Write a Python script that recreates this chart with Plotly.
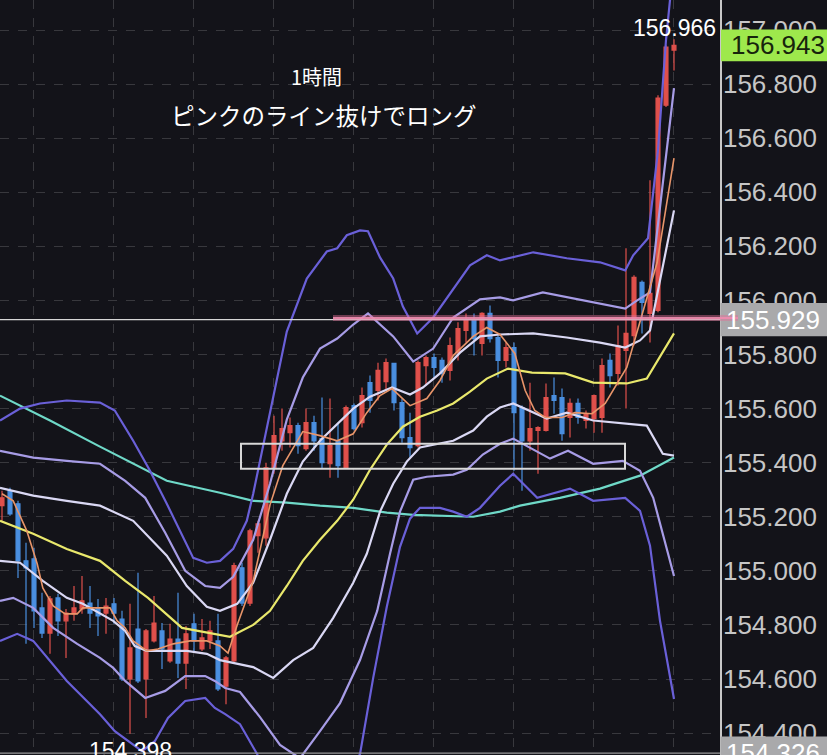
import plotly.graph_objects as go

# ---------------- candle data (1h) ----------------
open_ = [155.241, 155.296, 155.248, 155.037, 155.044, 154.863, 154.770, 154.900, 154.815, 154.841,
         154.859, 154.881, 154.863, 154.844, 154.878, 154.822, 154.600, 154.785, 154.600, 154.741,
         154.778, 154.667, 154.748, 154.659, 154.804, 154.711, 154.741, 154.741, 154.574, 154.667,
         155.011, 154.881, 155.130, 155.122, 155.381, 155.481, 155.511, 155.537, 155.452, 155.548,
         155.489, 155.396, 155.481, 155.381, 155.611, 155.548, 155.696, 155.667, 155.700, 155.767,
         155.622, 155.493, 155.463, 155.759, 155.789, 155.778, 155.741, 155.807, 155.889, 155.926,
         155.841, 155.952, 155.863, 155.778, 155.826, 155.604, 155.481, 155.519, 155.519, 155.648,
         155.641, 155.567, 155.619, 155.556, 155.563, 155.567, 155.778, 155.730, 155.815, 155.870,
         156.067, 155.952, 155.963, 156.722, 156.926]
high = [155.296, 155.307, 155.259, 155.104, 155.085, 154.919, 154.907, 154.915, 154.859, 154.944,
        154.981, 154.944, 154.896, 154.900, 154.900, 154.852, 154.878, 154.993, 154.785, 154.907,
        154.807, 154.804, 154.919, 154.796, 154.841, 154.822, 154.815, 154.841, 154.685, 155.030,
        155.030, 155.156, 155.185, 155.400, 155.574, 155.600, 155.567, 155.548, 155.600, 155.574,
        155.641, 155.637, 155.548, 155.611, 155.619, 155.678, 155.722, 155.770, 155.785, 155.770,
        155.637, 155.585, 155.778, 155.796, 155.804, 155.789, 155.863, 155.919, 155.952, 155.952,
        155.956, 155.981, 155.870, 155.844, 155.844, 155.611, 155.696, 155.535, 155.693, 155.715,
        155.674, 155.637, 155.637, 155.593, 155.652, 155.785, 155.804, 155.907, 156.193, 156.093,
        156.074, 156.444, 156.759, 156.944, 156.966]
low = [155.185, 155.204, 154.974, 154.730, 154.789, 154.752, 154.693, 154.759, 154.678, 154.815,
       154.841, 154.789, 154.759, 154.767, 154.804, 154.593, 154.398, 154.585, 154.456, 154.735,
       154.637, 154.660, 154.604, 154.563, 154.704, 154.704, 154.711, 154.556, 154.507, 154.659,
       154.870, 154.870, 155.067, 155.093, 155.359, 155.444, 155.456, 155.433, 155.444, 155.444,
       155.378, 155.344, 155.344, 155.378, 155.519, 155.530, 155.585, 155.630, 155.667, 155.593,
       155.474, 155.419, 155.456, 155.685, 155.715, 155.696, 155.704, 155.778, 155.844, 155.796,
       155.796, 155.844, 155.715, 155.752, 155.370, 155.296, 155.444, 155.359, 155.515, 155.581,
       155.481, 155.493, 155.544, 155.526, 155.511, 155.511, 155.678, 155.685, 155.600, 155.833,
       155.878, 155.844, 155.956, 156.715, 156.850]
close = [155.270, 155.211, 155.037, 155.011, 154.852, 154.770, 154.896, 154.815, 154.844, 154.863,
         154.889, 154.844, 154.833, 154.870, 154.844, 154.600, 154.715, 154.593, 154.778, 154.807,
         154.711, 154.748, 154.659, 154.767, 154.741, 154.752, 154.778, 154.563, 154.678, 155.019,
         154.881, 155.148, 155.174, 155.381, 155.500, 155.526, 155.537, 155.463, 155.548, 155.481,
         155.400, 155.463, 155.389, 155.604, 155.526, 155.648, 155.630, 155.741, 155.770, 155.622,
         155.493, 155.456, 155.770, 155.789, 155.752, 155.730, 155.833, 155.896, 155.926, 155.859,
         155.952, 155.859, 155.778, 155.826, 155.585, 155.481, 155.526, 155.530, 155.641, 155.630,
         155.507, 155.619, 155.567, 155.581, 155.648, 155.759, 155.722, 155.833, 155.878, 156.085,
         155.993, 156.026, 156.748, 156.937, 156.943]
bars = list(range(len(open_)))

# ---------------- indicator lines (bar index, price) ----------------
cyan_x = [-0.25, 6, 12, 20.6, 27.25, 31.4, 35.6, 39.75, 43.9, 48.1, 51.4, 56.4, 58.9, 62.25, 64.75,
          69.75, 74.75, 79.75, 84]
cyan_y = [155.648, 155.556, 155.463, 155.333, 155.289, 155.259, 155.252, 155.241, 155.233, 155.215,
          155.207, 155.204, 155.200, 155.219, 155.241, 155.270, 155.304, 155.352, 155.419]

mid_x = [-0.25, 3.9, 8.1, 12.25, 15.4, 18.25, 22.5, 26.6, 28.5, 31.4, 33.5, 35.6, 37.6, 39.75, 41.9,
         43.9, 46, 48.1, 50.1, 52.25, 54.4, 56.4, 58.5, 60.6, 63.25, 66.25, 70.4, 73.9, 78.1, 80.6, 84]
mid_y = [155.185, 155.137, 155.081, 155.037, 154.963, 154.900, 154.789, 154.767, 154.756, 154.800,
         154.852, 154.944, 155.037, 155.115, 155.185, 155.263, 155.374, 155.467, 155.533, 155.570,
         155.593, 155.619, 155.663, 155.711, 155.748, 155.733, 155.730, 155.696, 155.693, 155.711,
         155.878]

fast_x = [0, 1.4, 3.1, 4.4, 5.1, 6.4, 7.9, 9.4, 10.1, 12.25, 13.5, 14.4, 15.4, 16.4, 18.1, 19.5,
          21.4, 23.5, 25.6, 27.25, 28.25, 29.4, 31.4, 33.5, 35.1, 37.6, 39.75, 41.9, 43.9, 45.6,
          47.25, 48.75, 50, 51, 53.1, 54.75, 56.4, 58.9, 60.6, 62.25, 64.1, 65.4, 66.6, 67.9, 70,
          71.6, 73.75, 75.4, 78.1, 80.1, 81.9, 84]
fast_y = [155.285, 155.259, 155.148, 155.026, 154.937, 154.870, 154.841, 154.841, 154.863, 154.863,
          154.863, 154.815, 154.789, 154.741, 154.704, 154.711, 154.730, 154.741, 154.741, 154.722,
          154.696, 154.800, 154.963, 155.244, 155.389, 155.515, 155.500, 155.481, 155.507, 155.585,
          155.648, 155.674, 155.637, 155.611, 155.637, 155.704, 155.796, 155.867, 155.900, 155.874,
          155.804, 155.667, 155.593, 155.567, 155.567, 155.585, 155.581, 155.619, 155.752, 155.952,
          156.141, 156.526]

up3_x = [-0.25, 2.25, 4.75, 8.1, 12.25, 14.1, 16.4, 18.5, 20.6, 23.9, 25.6, 27.25, 28.9, 30.6, 31.4,
         33.5, 35.6, 38.1, 40.6, 41.9, 43.1, 44.75, 45.75, 47.25, 48.9, 50.1, 51.9, 53.9, 56.4, 58.5,
         60.6, 62.25, 66.4, 70.6, 74.75, 77.9, 78.9, 80.75, 82, 83, 84]
up3_y = [155.556, 155.600, 155.619, 155.630, 155.622, 155.593, 155.481, 155.370, 155.248, 155.048,
         155.030, 155.037, 155.081, 155.185, 155.285, 155.585, 155.885, 156.081, 156.181, 156.193,
         156.241, 156.259, 156.256, 156.159, 156.081, 155.978, 155.878, 155.937, 156.044, 156.130,
         156.167, 156.148, 156.178, 156.156, 156.141, 156.111, 156.167, 156.230, 156.556, 156.963,
         157.259]

up2_x = [-0.25, 3.9, 8.1, 12.25, 15.4, 17.9, 20.4, 22.9, 25.4, 27.25, 28.9, 31.4, 33.5, 35.6, 37.6,
         39.75, 41.9, 43.9, 45.75, 48.9, 51.4, 53.9, 56.4, 59.75, 62.25, 63.9, 67.6, 72.6, 77.9, 79.4,
         81, 84]
up2_y = [155.444, 155.419, 155.407, 155.396, 155.333, 155.270, 155.141, 155.000, 154.944, 154.937,
         154.978, 155.115, 155.322, 155.559, 155.715, 155.822, 155.859, 155.911, 155.952, 155.867,
         155.774, 155.822, 155.937, 156.004, 156.011, 156.000, 156.030, 156.000, 155.970, 156.000,
         156.030, 156.785]

up1_x = [-0.25, 3.9, 8.1, 12.25, 16.4, 20.6, 23.1, 25.6, 27.25, 29.4, 31.4, 33.5, 35.6, 37.6, 39.75,
         41.9, 43.9, 46, 48.75, 51, 52.6, 54.75, 57.25, 59.75, 62.25, 66.4, 70.6, 74.75, 77.9, 79.75,
         81, 84]
up1_y = [155.307, 155.278, 155.259, 155.241, 155.185, 155.056, 154.944, 154.867, 154.852, 154.878,
         154.956, 155.115, 155.285, 155.404, 155.481, 155.544, 155.600, 155.644, 155.678, 155.652,
         155.678, 155.730, 155.807, 155.867, 155.874, 155.878, 155.863, 155.844, 155.826, 155.852,
         155.889, 156.333]

dn1_x = [-0.25, 2.25, 5.1, 8.1, 10.1, 12.25, 13.9, 15.4, 16.6, 18.1, 20.6, 23.1, 25.6, 27.25, 31.4,
         33.9, 36.4, 38.9, 41.4, 43.9, 45.6, 47.25, 48.9, 50.6, 52.25, 53.9, 56.4, 58.9, 60.6, 62.25,
         63.9, 68.1, 70.6, 73.9, 76.9, 80.6, 82.6, 84]
dn1_y = [155.037, 155.030, 154.963, 154.900, 154.878, 154.844, 154.815, 154.778, 154.722, 154.704,
         154.704, 154.704, 154.693, 154.670, 154.644, 154.604, 154.670, 154.715, 154.826, 154.956,
         155.063, 155.219, 155.322, 155.404, 155.456, 155.467, 155.481, 155.519, 155.570, 155.604,
         155.619, 155.563, 155.585, 155.556, 155.548, 155.537, 155.433, 155.426]

dn2_x = [-0.25, 1.4, 3.9, 6.4, 9.4, 12.25, 13.9, 15.4, 17.9, 20.4, 22.9, 25.4, 26.6, 27.9, 29.75,
         32.25, 34.75, 37.25, 39.75, 42.25, 44.75, 46.9, 48.5, 49.75, 51.4, 53.1, 56.4, 58.1, 60.1,
         62.25, 63.9, 68.5, 70.75, 73.9, 77.6, 79.75, 81.4, 84]
dn2_y = [154.889, 154.900, 154.863, 154.789, 154.730, 154.678, 154.641, 154.593, 154.530, 154.556,
         154.611, 154.611, 154.593, 154.567, 154.552, 154.459, 154.356, 154.307, 154.407, 154.511,
         154.670, 154.852, 155.063, 155.219, 155.337, 155.348, 155.356, 155.374, 155.430, 155.470,
         155.489, 155.415, 155.444, 155.396, 155.407, 155.370, 155.270, 154.981]

dn3_x = [-0.25, 1.9, 3.9, 6, 8.1, 10.6, 12.25, 14.1, 17.5, 19.1, 20.75, 22.9, 25.4, 26.6, 27.9, 29.75,
         31.9, 35.6, 39.75, 42.25, 44.75, 46.4, 48.1, 49.75, 51, 52.25, 54.75, 56.4, 58.1, 59.75,
         62.25, 63.9, 66.9, 71, 73.9, 77.9, 79.75, 81, 82.25, 84]
dn3_y = [154.741, 154.767, 154.741, 154.667, 154.593, 154.519, 154.470, 154.407, 154.333, 154.370,
         154.456, 154.519, 154.530, 154.493, 154.470, 154.433, 154.322, 154.004, 154.096, 154.200,
         154.322, 154.604, 154.867, 155.089, 155.193, 155.233, 155.233, 155.219, 155.200, 155.233,
         155.315, 155.359, 155.270, 155.304, 155.259, 155.270, 155.222, 155.093, 154.815, 154.526]

# ---------------- levels / labels ----------------
price_ticks = [154.4, 154.6, 154.8, 155.0, 155.2, 155.4, 155.6, 155.8, 156.0, 156.2, 156.4, 156.6, 156.8, 157.0]
last_price = 156.943
line_price = 155.929
bottom_price = 154.326
session_high = 156.966
session_low = 154.398
zone_low, zone_high = 155.378, 155.470
zone_start, zone_end = 29.875, 77.875
pink_level = 155.935
title1 = "1時間"
title2 = "ピンクのライン抜けでロング"

Y0, Y1 = 154.319, 157.111
X0, X1 = -0.25, 89.75

BG = "#131319"
RED = "#e0504b"
BLUE = "#4a8fe0"

fig = go.Figure()
fig.add_trace(go.Candlestick(
    x=bars, open=open_, high=high, low=low, close=close,
    increasing=dict(line=dict(color=RED, width=1.2), fillcolor=RED),
    decreasing=dict(line=dict(color=BLUE, width=1.2), fillcolor=BLUE),
    whiskerwidth=0, showlegend=False, hoverinfo="skip"))

def line(x, y, color, width):
    fig.add_trace(go.Scatter(x=x, y=y, mode="lines", line=dict(color=color, width=width),
                             showlegend=False, hoverinfo="skip"))

line(cyan_x, cyan_y, "#6fd9c8", 2.2)
line(up3_x, up3_y, "#6a60d8", 2.2)
line(dn3_x, dn3_y, "#6a60d8", 2.2)
line(up2_x, up2_y, "#a79ce6", 2.2)
line(dn2_x, dn2_y, "#a79ce6", 2.2)
line(up1_x, up1_y, "#dad8f4", 2.2)
line(dn1_x, dn1_y, "#dad8f4", 2.2)
line(mid_x, mid_y, "#e9e86c", 2.2)
line(fast_x, fast_y, "#e8956a", 1.6)

def py(p):
    return (p - Y0) / (Y1 - Y0)

shapes = [
    dict(type="line", xref="paper", yref="y", x0=0, x1=1, y0=line_price, y1=line_price,
         line=dict(color="#d6d6d6", width=1.2), layer="above"),
    dict(type="line", xref="paper", yref="y", x0=0, x1=1, y0=bottom_price, y1=bottom_price,
         line=dict(color="#9a9a9a", width=1.2), layer="above"),
    dict(type="rect", xref="x", yref="y", x0=zone_start, x1=zone_end, y0=zone_low, y1=zone_high,
         line=dict(color="#d8d8d8", width=2), layer="above"),
    dict(type="rect", xref="paper", yref="paper", x0=721 / 720, x1=1.16,
         y0=py(last_price) - 0.021, y1=py(last_price) + 0.021,
         fillcolor="#9ee84c", line=dict(width=0), layer="above"),
    dict(type="rect", xref="paper", yref="paper", x0=720.5 / 720, x1=1.16,
         y0=py(line_price) - 0.022, y1=py(line_price) + 0.022,
         fillcolor="#a9a9ab", line=dict(width=0), layer="above"),
    dict(type="rect", xref="paper", yref="paper", x0=720.5 / 720, x1=1.16,
         y0=py(bottom_price) - 0.022, y1=py(bottom_price) + 0.022,
         fillcolor="#a9a9ab", line=dict(width=0), layer="above"),
    dict(type="line", xref="paper", yref="y", x0=333 / 720, x1=738 / 720, y0=pink_level, y1=pink_level,
         line=dict(color="rgba(225,110,150,0.45)", width=6), layer="above"),
    dict(type="line", xref="paper", yref="y", x0=333 / 720, x1=738 / 720, y0=pink_level, y1=pink_level,
         line=dict(color="rgba(240,140,175,0.9)", width=2), layer="above"),
]

NUMFONT = "Liberation Sans, Arial, sans-serif"
CJK = "Noto Sans CJK JP, sans-serif"
annotations = [
    dict(xref="paper", yref="paper", x=316 / 720, y=1 - 77 / 755, text=title1, showarrow=False,
         xanchor="center", yanchor="middle",
         font=dict(family=CJK, size=20, color="#ffffff")),
    dict(xref="paper", yref="paper", x=324 / 720, y=1 - 115 / 755, text=title2, showarrow=False,
         xanchor="center", yanchor="middle",
         font=dict(family=CJK, size=23.5, color="#ffffff")),
    dict(xref="x", yref="y", x=bars[-1], y=session_high, text=f"{session_high:.3f}", showarrow=False,
         xanchor="center", yanchor="bottom", yshift=-4, font=dict(family=NUMFONT, size=23, color="#ffffff")),
    dict(xref="x", yref="y", x=16, y=session_low, text=f"{session_low:.3f}", showarrow=False,
         xanchor="center", yanchor="top", yshift=-2, font=dict(family=NUMFONT, size=23, color="#ffffff")),
    dict(xref="paper", yref="y", x=1.0805, y=last_price, text=f"{last_price:.3f}", showarrow=False,
         xanchor="center", yanchor="middle", font=dict(family=NUMFONT, size=26, color="#17240c")),
    dict(xref="paper", yref="y", x=1.0735, y=line_price, text=f"{line_price:.3f}", showarrow=False,
         xanchor="center", yanchor="middle", font=dict(family=NUMFONT, size=26, color="#ffffff")),
    dict(xref="paper", yref="y", x=1.0735, y=bottom_price, text=f"{bottom_price:.3f}", showarrow=False,
         xanchor="center", yanchor="middle", font=dict(family=NUMFONT, size=26, color="#ffffff")),
]

fig.update_layout(
    width=827, height=755,
    margin=dict(l=0, r=107, t=0, b=0),
    paper_bgcolor=BG, plot_bgcolor=BG,
    boxgap=0.3,
    shapes=shapes, annotations=annotations,
    showlegend=False,
    xaxis=dict(range=[X0, X1], rangeslider=dict(visible=False), showticklabels=False,
               tickvals=[3.875 + 10 * k for k in range(9)], ticks="",
               showgrid=True, gridcolor="rgba(255,255,255,0.16)", griddash="dash", gridwidth=1,
               zeroline=False, showline=False, fixedrange=True),
    yaxis=dict(range=[Y0, Y1], side="right", tickvals=price_ticks,
               ticktext=[f"{v:.3f}" for v in price_ticks], ticks="",
               tickfont=dict(family=NUMFONT, size=26, color="#c6c6c6"), ticklabelstandoff=-4,
               showgrid=True, gridcolor="rgba(255,255,255,0.16)", griddash="dash", gridwidth=1,
               zeroline=False, showline=True, linecolor="#c8c8c8", linewidth=1.5, fixedrange=True),
)

fig.write_html("out.html", config={"displayModeBar": False},
               post_script="document.body.style.margin='0';document.body.style.padding='0';"
                           "document.body.style.background='" + BG + "';")
